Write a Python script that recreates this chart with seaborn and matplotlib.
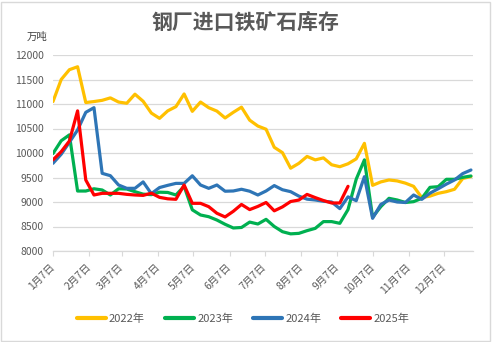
import numpy as np
import pandas as pd
import matplotlib
matplotlib.use("Agg")
import matplotlib.pyplot as plt
import seaborn as sns
from matplotlib.patches import Rectangle

title = "钢厂进口铁矿石库存"
unit = "万吨"
series_names = ["2022年", "2023年", "2024年", "2025年"]
colors = ["#FFC000", "#00B050", "#2E75B6", "#FF0000"]
month_labels = [f"{m}月7日" for m in range(1, 13)]

v2022 = [11050, 11500, 11700, 11760, 11030, 11050, 11075, 11125, 11040, 11015,
         11200, 11055, 10815, 10707, 10860, 10946, 11205, 10850, 11040, 10925,
         10855, 10715, 10830, 10935, 10670, 10550, 10485, 10116, 10007, 9690,
         9789, 9930, 9860, 9900, 9760, 9720, 9780, 9880, 10197, 9340,
         9410, 9450, 9430, 9385, 9320, 9090, 9120, 9177, 9211, 9260,
         9480, 9520]
v2023 = [9990, 10250, 10370, 9224, 9224, 9270, 9245, 9143, 9270, 9265,
         9211, 9160, 9150, 9200, 9195, 9143, 9320, 8840, 8735, 8700,
         8632, 8545, 8470, 8480, 8590, 8551, 8646, 8500, 8394, 8350,
         8360, 8415, 8462, 8600, 8600, 8565, 8845, 9465, 9860, 8690,
         8905, 9075, 9041, 8990, 9007, 9075, 9299, 9313, 9463, 9463,
         9503, 9531]
v2024 = [9790, 9975, 10218, 10470, 10830, 10925, 9585, 9537, 9347, 9279,
         9279, 9410, 9170, 9295, 9340, 9380, 9380, 9535, 9347, 9279,
         9347, 9220, 9225, 9260, 9220, 9143, 9225, 9335, 9250, 9211,
         9120, 9058, 9041, 9015, 9000, 8865, 9105, 9027, 9517, 8667,
         8950, 9040, 9000, 8990, 9143, 9054, 9180, 9270, 9365, 9450,
         9580, 9653]
v2025 = [9860, 10027, 10245, 10860, 9449, 9143, 9177, 9177, 9177, 9156,
         9143, 9135, 9180, 9095, 9065, 9055, 9347, 8973, 8973, 8905,
         8770, 8695, 8810, 8950, 8845, 8910, 8990, 8820, 8900, 9010,
         9040, 9155, 9090, 9030, 8980, 8980, 9320]

start = pd.Timestamp("2023-01-07")
frames = []
for name, vals in zip(series_names, [v2022, v2023, v2024, v2025]):
    dates = pd.date_range(start, periods=len(vals), freq="7D")
    frames.append(pd.DataFrame({"day": (dates - start).days, "value": vals, "year": name}))
df = pd.concat(frames, ignore_index=True)

tick_pos = [(pd.Timestamp(2023, m, 7) - start).days for m in range(1, 13)]

sns.set_style("white")
plt.rcParams["font.family"] = ["Noto Sans CJK SC", "DejaVu Sans"]

fig = plt.figure(figsize=(4.93, 3.42), dpi=100)
ax = fig.add_axes([53 / 493, 1 - 251 / 342, (472.7 - 53) / 493, (251 - 55) / 342])

sns.lineplot(data=df, x="day", y="value", hue="year", palette=colors,
             linewidth=2.3, ax=ax, legend=True)

ax.set_xlim(0, 358.5)
ax.set_ylim(8000, 12000)
ax.set_yticks(np.arange(8000, 12001, 500))
ax.yaxis.grid(True, color="#D9D9D9", linewidth=0.9)
ax.set_axisbelow(True)
for s in ["left", "right", "top"]:
    ax.spines[s].set_visible(False)
ax.spines["bottom"].set_color("#D9D9D9")
ax.spines["bottom"].set_linewidth(0.9)
ax.tick_params(axis="y", length=0, pad=6.5, labelsize=7.5, labelcolor="#595959")
ax.set_xticks(tick_pos)
ax.set_xticklabels(month_labels, rotation=45, ha="right", va="center",
                   rotation_mode="anchor", fontsize=7.5, color="#595959")
ax.tick_params(axis="x", length=3.5, color="#D9D9D9", pad=7, bottom=True)
ax.set_xlabel("")
ax.set_ylabel("")

handles, labels = ax.get_legend_handles_labels()
ax.legend_.remove()
for h in handles:
    h.set_linewidth(3)
fig.legend(handles, labels, loc="center", bbox_to_anchor=(0.493, 1 - 319 / 342),
           ncol=4, frameon=False, fontsize=8, handlelength=2.6,
           handletextpad=0.3, columnspacing=1.8, labelcolor="#595959")

fig.text(0.497, 1 - 22 / 342, title, ha="center", va="center", fontsize=15,
         fontweight="bold", color="#595959")
fig.text(37 / 493, 1 - 37 / 342, unit, ha="center", va="center", fontsize=7.5,
         color="#404040")

fig.patches.append(Rectangle((1 / 493, 1 / 342), 489 / 493, 339 / 342,
                             transform=fig.transFigure, fill=False,
                             edgecolor="#D9D9D9", linewidth=1))

fig.savefig("out.png", dpi=100)
